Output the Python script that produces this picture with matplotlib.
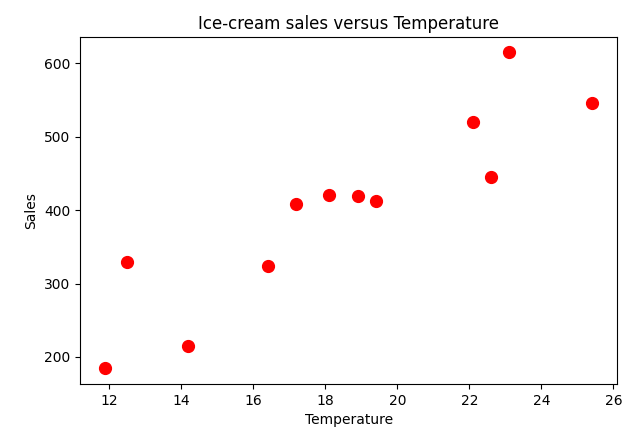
import matplotlib
matplotlib.use("Agg")
import matplotlib.pyplot as plt

# values
temperature = [11.9, 12.5, 14.2, 16.4, 17.2, 18.1, 18.9, 19.4, 22.1, 22.6, 23.1, 25.4]
sales = [185, 330, 215, 324, 408, 421, 419, 413, 520, 445, 615, 546]


def main():
    fig = plt.figure(figsize=(6.22, 4.34), dpi=100)
    ax = fig.add_axes([0.129, 0.115, 0.863, 0.8])
    ax.plot(temperature, sales, "o", color="red", markersize=8.5)
    ax.set_xlim(11.2, 26.1)
    ax.set_ylim(163, 636)
    ax.set_xticks(range(12, 27, 2))
    ax.set_yticks(range(200, 601, 100))
    ax.set_title("Ice-cream sales versus Temperature")
    ax.set_xlabel("Temperature")
    ax.set_ylabel("Sales")
    fig.savefig("out.png", dpi=100)


if __name__ == '__main__':
    main()
